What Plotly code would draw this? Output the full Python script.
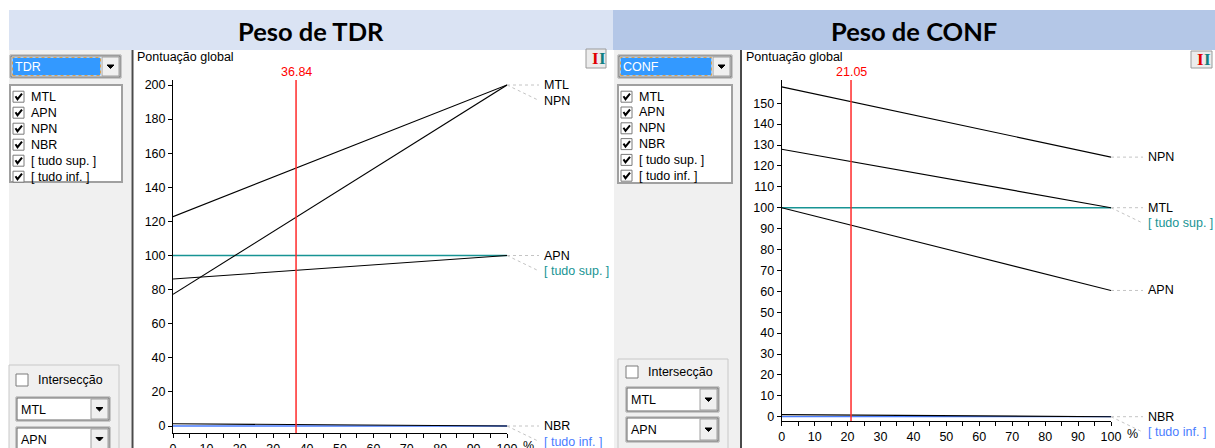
import plotly.graph_objects as go

W, H = 1215, 448
UI = "Liberation Sans, Arial, sans-serif"

# ---------------- data ----------------
criteria = ["MTL", "APN", "NPN", "NBR"]
weight_pct = [0, 100]

tdr_at_0 = [122.8, 86.2, 77.2, 1.3]
tdr_at_100 = [200.0, 100.0, 200.0, 0.0]
tdr_all_sup = [100.0, 100.0]
tdr_all_inf = [0.0, 0.0]
tdr_weight = 36.84

conf_at_0 = [128.0, 100.0, 157.8, 1.0]
conf_at_100 = [100.0, 60.4, 124.2, 0.0]
conf_all_sup = [100.0, 100.0]
conf_all_inf = [0.0, 0.0]
conf_weight = 21.05

x_ticks = list(range(0, 101, 10))
x_minor = list(range(0, 101, 5))
tdr_y_ticks = list(range(0, 201, 20))
conf_y_ticks = list(range(0, 151, 10))
list_items = ["MTL", "APN", "NPN", "NBR", "[ tudo sup. ]", "[ tudo inf. ]"]
sup_label, inf_label = "[ tudo sup. ]", "[ tudo inf. ]"

BLACK, TEAL, BLUE, RED = "#000000", "#179494", "#4a7dff", "#ff2a2a"

# ---------------- helpers ----------------
def fx(p): return p / W
def fy(p): return 1 - p / H

shapes, annos = [], []

def rect(x0, y0, x1, y1, fill=None, line=None, lw=1, dash=None):
    shapes.append(dict(type="rect", xref="paper", yref="paper",
                       x0=fx(x0), x1=fx(x1), y0=fy(y1), y1=fy(y0),
                       fillcolor=fill or "rgba(0,0,0,0)",
                       line=dict(color=line or "rgba(0,0,0,0)", width=lw if line else 0, dash=dash)))

def seg(x0, y0, x1, y1, color, lw=1):
    shapes.append(dict(type="line", xref="paper", yref="paper",
                       x0=fx(x0), x1=fx(x1), y0=fy(y0), y1=fy(y1),
                       line=dict(color=color, width=lw)))

def poly(pts, color, lw=1, fill=None, closed=False):
    d = "M " + " L ".join(f"{fx(a):.5f},{fy(b):.5f}" for a, b in pts)
    if closed:
        d += " Z"
    shapes.append(dict(type="path", xref="paper", yref="paper", path=d,
                       line=dict(color=color, width=lw), fillcolor=fill or "rgba(0,0,0,0)"))

def text(x, y, s, size=12, color="black", anchor="left", family=UI, bold=False):
    annos.append(dict(xref="paper", yref="paper", x=fx(x), y=fy(y),
                      text=f"<b>{s}</b>" if bold else s, showarrow=False,
                      xanchor=anchor, yanchor="middle",
                      font=dict(size=size, color=color, family=family)))

def dropdown(x0, y0, x1, y1, label, selected=False):
    rect(x0, y0, x1, y1, fill="white", line="#a0a0a0", lw=1)
    rect(x0 + 1, y0 + 1, x1 - 1, y1 - 1, line="#696969", lw=1)
    bx0 = x1 - 19
    if selected:
        rect(x0 + 2.5, y0 + 2.5, bx0 - 1.5, y1 - 2.5, fill="#3399ff", line="#d9a050", lw=1, dash="dot")
    rect(bx0, y0 + 2, x1 - 2, y1 - 2, fill="#f0f0f0", line="#a0a0a0")
    cx, cy = (bx0 + x1 - 2) / 2, (y0 + y1) / 2
    poly([(cx - 3.5, cy - 1.5), (cx + 3.5, cy - 1.5), (cx, cy + 2)], "black", 1, fill="black", closed=True)
    text(x0 + 3, (y0 + y1) / 2 + 0.5, label, 12.5, "white" if selected else "black")

def checkbox(x0, yc, checked, size=11):
    rect(x0, yc - size / 2, x0 + size, yc + size / 2, fill="white", line="#7a7a7a")
    if checked:
        poly([(x0 + 2.5, yc - 0.5), (x0 + 4.5, yc + 2.5), (x0 + 9, yc - 3)], "black", 2)

def side_panel(p):
    rect(p["px0"], 50, p["px1"], 448, fill="#f0f0f0")
    dropdown(*p["dd"], p["name"], selected=True)
    lx0, ly0, lx1, ly1 = p["list"]
    rect(lx0, ly0, lx1, ly1, fill="white", line="#a0a0a0", lw=2)
    for i, item in enumerate(list_items):
        yc = p["row0"] + p["rowstep"] * i
        checkbox(lx0 + 3, yc, True)
        text(lx0 + 19, yc, item, 12.5)
    gx0, gy, gx1 = p["group"]
    seg(gx0, gy, gx1, gy, "#c8c8c8")
    seg(gx0, gy, gx0, 448, "#c8c8c8")
    seg(gx1, gy, gx1, 448, "#c8c8c8")
    cbx, cby = p["chk"]
    checkbox(cbx, cby, False, 12)
    text(cbx + 20, cby, "Intersecção", 12.5)
    dropdown(*p["dd2"], "MTL")
    dropdown(*p["dd3"], "APN")
    seg(p["border"], 50, p["border"], 448, "#4a4a4a", 2)

# ---------------- panel definitions ----------------
panels = [
    dict(name="TDR", title="Peso de TDR", at0=tdr_at_0, at100=tdr_at_100,
         sup=tdr_all_sup, inf=tdr_all_inf, weight=tdr_weight, yticks=tdr_y_ticks,
         X0=173, X100=507, Y0=426, YREF=85, REF=200, YTOP=80, YBOT=433, XRIGHT=612,
         ax=("x", "y"), lab=("x3", "y3"),
         px0=9, px1=131, dd=(10, 55, 121, 78), list=(10, 85, 122, 182), row0=96.7, rowstep=16,
         group=(9, 365, 119), chk=(16, 380), dd2=(16, 397, 110, 421), dd3=(16, 427, 110, 451),
         border=132.5, hdr=(9, 613, "#dae3f3"), btn=(586, 49, 606, 68), pg=135),
    dict(name="CONF", title="Peso de CONF", at0=conf_at_0, at100=conf_at_100,
         sup=conf_all_sup, inf=conf_all_inf, weight=conf_weight, yticks=conf_y_ticks,
         X0=781.7, X100=1111, Y0=416.7, YREF=207.7, REF=100, YTOP=80, YBOT=421, XRIGHT=1215,
         ax=("x2", "y2"), lab=("x4", "y4"),
         px0=614, px1=740, dd=(618, 55, 732, 78), list=(618, 85, 732, 183), row0=96.7, rowstep=15.8,
         group=(618, 359, 728), chk=(626, 372), dd2=(626, 387, 719, 412), dd3=(626, 417, 719, 442),
         border=741, hdr=(613, 1215, "#b4c7e7"), btn=(1191, 51, 1212, 68), pg=744),
]

fig = go.Figure()
layout_axes = {}

for p in panels:
    X0, X100, Y0, YREF, REF = p["X0"], p["X100"], p["Y0"], p["YREF"], p["REF"]
    vx = lambda px, X0=X0, X100=X100: (px - X0) / (X100 - X0) * 100
    vy = lambda py, Y0=Y0, YREF=YREF, REF=REF: (Y0 - py) / (Y0 - YREF) * REF
    xa, ya = p["ax"]
    lxa, lya = p["lab"]
    yr = [vy(p["YBOT"]), vy(p["YTOP"])]

    # header + side panel
    hx0, hx1, hcol = p["hdr"]
    rect(hx0, 10, hx1, 50, fill=hcol)
    text((hx0 + hx1) / 2, 31, p["title"], 25.5, "black", "center", "Lato, Open Sans, sans-serif", bold=True)
    side_panel(p)
    text(p["pg"], 57, "Pontuação global", 12.5)
    bx0, by0, bx1, by1 = p["btn"]
    rect(bx0, by0, bx1, by1, fill="#ececec", line="#9a9a9a")
    text(bx0 + 4, (by0 + by1) / 2, "<b>I</b>", 17, "#e00000", "left", "Liberation Serif, DejaVu Serif, serif")
    text(bx0 + 10.5, (by0 + by1) / 2, "<b>I</b>", 17, "#108080", "left", "Liberation Serif, DejaVu Serif, serif")

    # reference lines
    fig.add_trace(go.Scatter(x=weight_pct, y=p["sup"], mode="lines", line=dict(color=TEAL, width=1.4),
                             xaxis=xa, yaxis=ya, hoverinfo="skip"))
    fig.add_trace(go.Scatter(x=weight_pct, y=p["inf"], mode="lines", line=dict(color=BLUE, width=1.3),
                             xaxis=xa, yaxis=ya, hoverinfo="skip"))
    for i, c in enumerate(criteria):
        fig.add_trace(go.Scatter(x=weight_pct, y=[p["at0"][i], p["at100"][i]], mode="lines",
                                 line=dict(color=BLACK, width=1.1), xaxis=xa, yaxis=ya, name=c))
    # current weight
    fig.add_trace(go.Scatter(x=[p["weight"], p["weight"]], y=yr, mode="lines",
                             line=dict(color=RED, width=1.5), xaxis=xa, yaxis=ya, hoverinfo="skip"))
    annos.append(dict(xref=xa, yref="paper", x=p["weight"], y=fy(72), text=f"{p['weight']:.2f}",
                      showarrow=False, xanchor="center", yanchor="middle",
                      font=dict(size=12.5, color="#ff0000", family=UI)))
    annos.append(dict(xref=xa, yref="paper", x=100, xshift=21, y=fy(p["YBOT"] + 13), text="%",
                      showarrow=False, xanchor="center", yanchor="middle",
                      font=dict(size=12.5, color="black", family=UI)))

    # end labels with leaders
    ends = [(c, p["at100"][i], BLACK) for i, c in enumerate(criteria)]
    ends += [(sup_label, p["sup"][-1], TEAL), (inf_label, p["inf"][-1], BLUE)]
    order = sorted(range(len(ends)), key=lambda k: -ends[k][1])
    gap = 15.5 / ((Y0 - YREF) / REF)
    prev = None
    for k in order:
        lab, val, col = ends[k]
        pos = val if prev is None or prev - val >= gap else prev - gap
        prev = pos
        fig.add_trace(go.Scatter(x=[100, vx(X100 + 32)], y=[val, pos], mode="lines",
                                 line=dict(color="#c4c4c4", width=1, dash="3px,3px"),
                                 xaxis=lxa, yaxis=lya, hoverinfo="skip"))
        annos.append(dict(xref=lxa, yref=lya, x=vx(X100 + 35), y=pos, text=lab, showarrow=False,
                          xanchor="left", yanchor="middle", font=dict(size=12.5, color=col, family=UI)))

    tf = dict(family=UI, size=12.5, color="black")
    layout_axes["xaxis" + xa[1:]] = dict(
        domain=[fx(X0), fx(X100)], range=[0, 100], anchor=ya, showline=True, linecolor="black",
        linewidth=1, ticks="outside", ticklen=4, tickcolor="black", tickvals=x_ticks, tickfont=tf,
        showgrid=False, zeroline=False, fixedrange=True, automargin=False,
        minor=dict(tickvals=x_minor, ticks="outside", ticklen=4, tickcolor="black", showgrid=False))
    layout_axes["yaxis" + ya[1:]] = dict(
        domain=[fy(p["YBOT"]), fy(p["YTOP"])], range=yr, anchor=xa, showline=True, linecolor="black",
        linewidth=1, ticks="outside", ticklen=4, tickcolor="black", tickvals=p["yticks"], tickfont=tf,
        showgrid=False, zeroline=False, fixedrange=True, automargin=False)
    layout_axes["xaxis" + lxa[1:]] = dict(
        domain=[fx(X0), fx(p["XRIGHT"])], range=[0, vx(p["XRIGHT"])], anchor=lya, visible=False,
        fixedrange=True, automargin=False)
    layout_axes["yaxis" + lya[1:]] = dict(
        domain=[0, fy(p["YTOP"])], range=[vy(H), vy(p["YTOP"])], anchor=lxa, visible=False,
        fixedrange=True, automargin=False)

fig.update_layout(
    width=W, height=H, autosize=False, margin=dict(l=0, r=0, t=0, b=0, pad=0, autoexpand=False),
    paper_bgcolor="white", plot_bgcolor="rgba(0,0,0,0)", showlegend=False,
    shapes=shapes, annotations=annos, **layout_axes)

fig.write_html("out.html", config={"displayModeBar": False, "responsive": False},
               post_script="document.body.style.margin='0';document.body.style.padding='0';"
                           "document.documentElement.style.overflow='hidden';"
                           "document.body.style.overflow='hidden';")
